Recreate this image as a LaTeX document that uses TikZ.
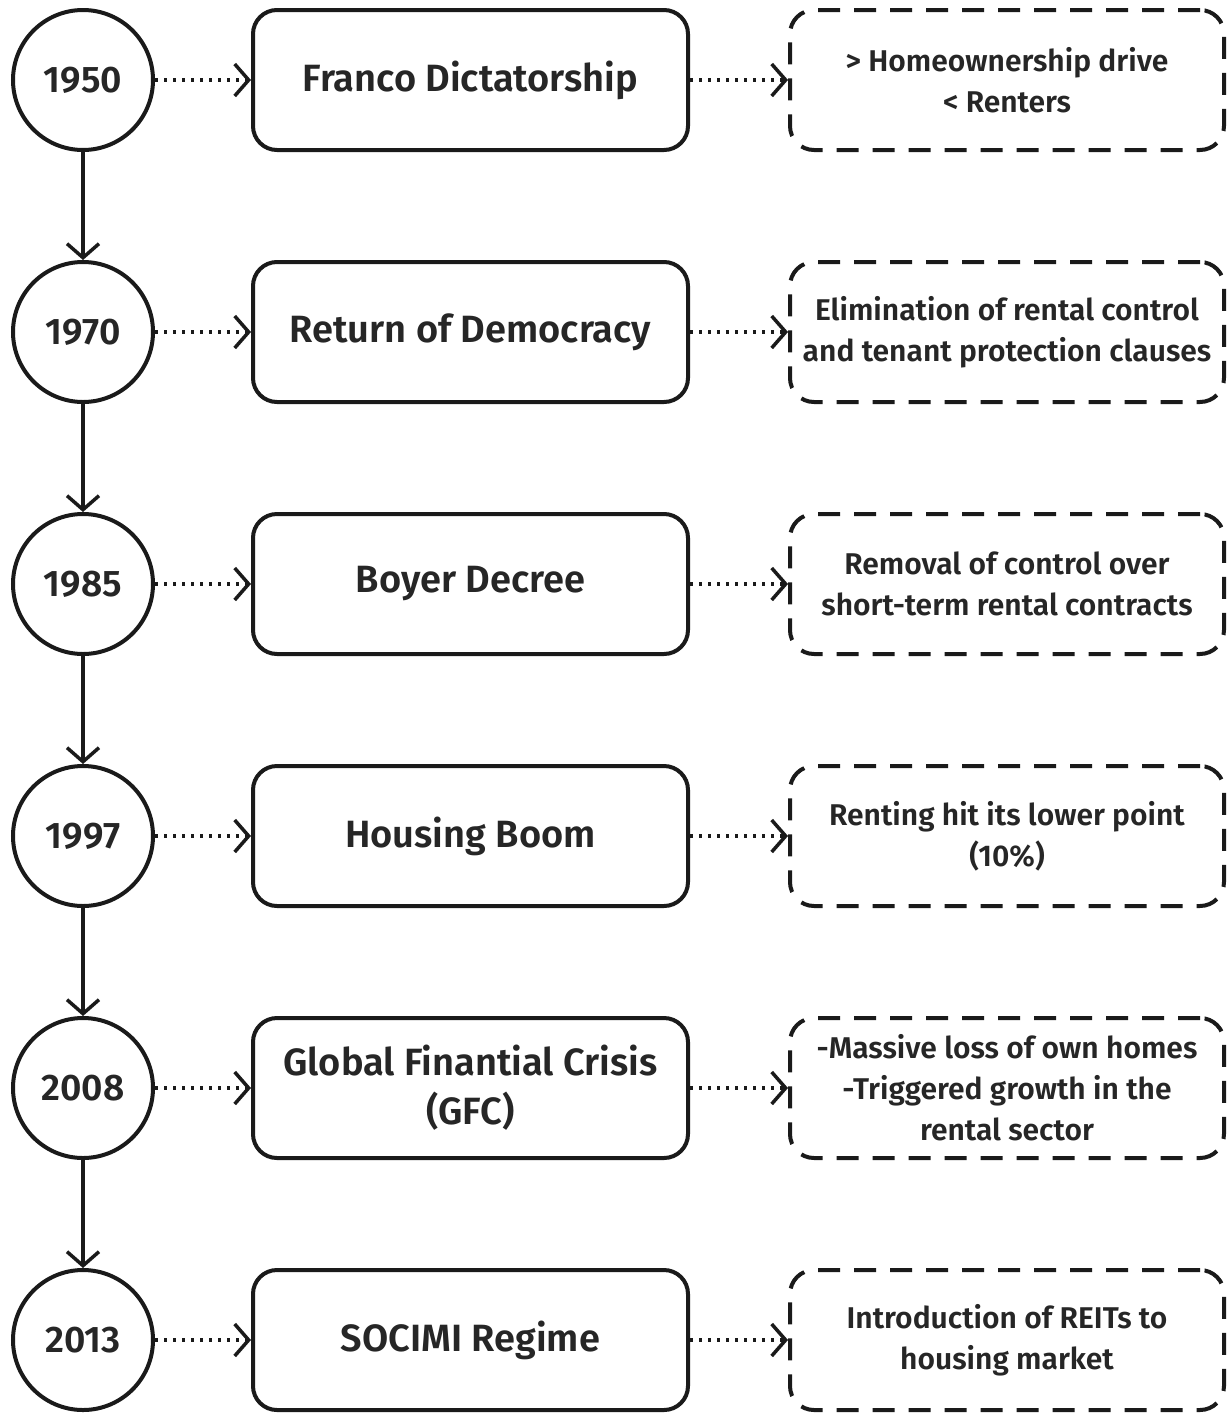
\documentclass[tikz,border=0pt]{standalone}
\usepackage{fontspec}
\setmainfont{Fira Sans}[BoldFont={Fira Sans SemiBold}]
\usetikzlibrary{arrows.meta,positioning}
\definecolor{ink}{HTML}{1A1A1A}
\definecolor{textgray}{HTML}{262626}
\tikzset{
  year/.style={draw=ink,circle,line width=4pt,minimum size=140pt,inner sep=0pt,
    font=\bfseries\fontsize{37}{40}\selectfont,text=textgray,fill=white},
  event/.style={draw=ink,rounded corners=24pt,line width=4pt,minimum width=435pt,
    minimum height=140pt,align=center,font=\bfseries\fontsize{38}{49}\selectfont,
    text=textgray,fill=white},
  effect/.style={event,dash pattern=on 22pt off 14pt,minimum width=434pt,
    inner xsep=2pt,font=\bfseries\fontsize{30}{41}\selectfont},
  next/.style={-{Straight Barb[length=14pt,width=32pt,line width=3.5pt]},line width=3.5pt,draw=ink},
  link/.style={next,dash pattern=on 3pt off 6pt}
}
\begin{document}
\begin{tikzpicture}[x=1pt,y=-1pt,node distance=108pt]
  \useasboundingbox[fill=white] (0,0) rectangle (1228,1414);
  \node[year] (y1950) at (83,80) {1950};
  \node[year,below=of y1950] (y1970) {1970};
  \node[year,below=of y1970] (y1985) {1985};
  \node[year,below=of y1985] (y1997) {1997};
  \node[year,below=of y1997] (y2008) {2008};
  \node[year,below=of y2008] (y2013) {2013};
  % events
  \node[event,right=96pt of y1950] (franco) {Franco Dictatorship};
  \node[event,right=96pt of y1970] (democracy) {Return of Democracy};
  \node[event,right=96pt of y1985] (boyer) {Boyer Decree};
  \node[event,right=96pt of y1997] (boom) {Housing Boom};
  \node[event,right=96pt of y2008] (gfc) {Global Finantial Crisis\\(GFC)};
  \node[event,right=96pt of y2013] (socimi) {SOCIMI Regime};
  % effects
  \node[effect,right=98pt of franco] (ownership) {> Homeownership drive\\< Renters};
  \node[effect,right=98pt of democracy] (protection) {Elimination of rental control\\and tenant protection clauses};
  \node[effect,right=98pt of boyer] (contracts) {Removal of control over\\short-term rental contracts};
  \node[effect,right=98pt of boom] (renting) {Renting hit its lower point\\(10\%)};
  \node[effect,right=98pt of gfc] (losses) {-Massive loss of own homes\\-Triggered growth in the\\rental sector};
  \node[effect,right=98pt of socimi] (reits) {Introduction of REITs to\\housing market};
  \draw[next] (y1950) -- (y1970);
  \draw[next] (y1970) -- (y1985);
  \draw[next] (y1985) -- (y1997);
  \draw[next] (y1997) -- (y2008);
  \draw[next] (y2008) -- (y2013);
  \draw[link] (y1950) -- (franco);
  \draw[link] (y1970) -- (democracy);
  \draw[link] (y1985) -- (boyer);
  \draw[link] (y1997) -- (boom);
  \draw[link] (y2008) -- (gfc);
  \draw[link] (y2013) -- (socimi);
  \draw[link] (franco) -- (ownership);
  \draw[link] (democracy) -- (protection);
  \draw[link] (boyer) -- (contracts);
  \draw[link] (boom) -- (renting);
  \draw[link] (gfc) -- (losses);
  \draw[link] (socimi) -- (reits);
\end{tikzpicture}
\end{document}
